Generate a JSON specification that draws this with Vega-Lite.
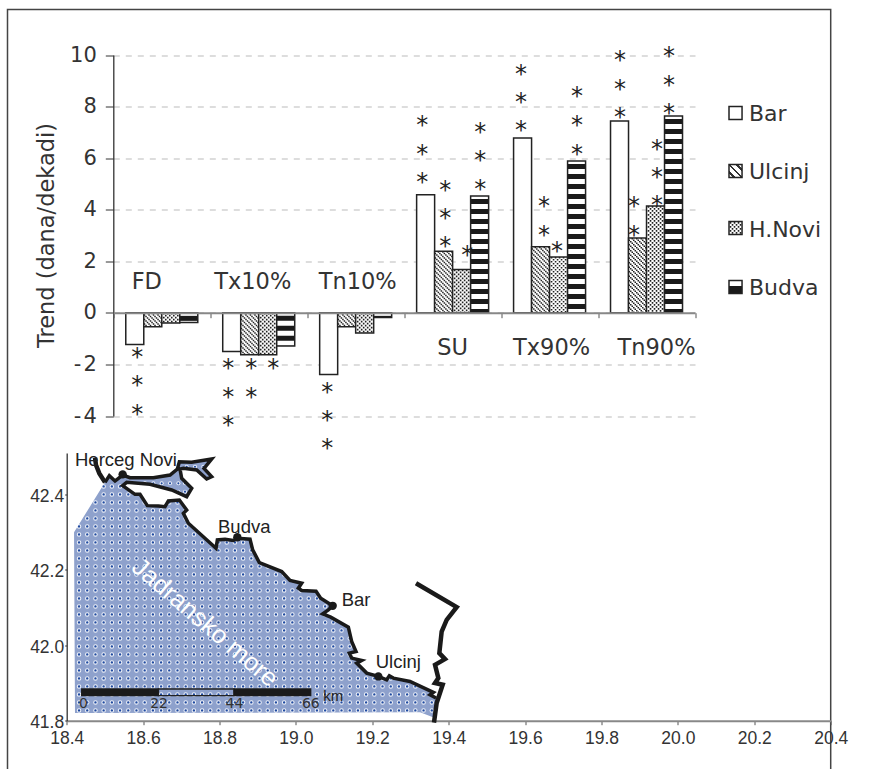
{
"$schema":"https://vega.github.io/schema/vega-lite/v6.json",
"width":823.2,"height":761,
"autosize":{"type":"none"},
"padding":{"left":7.5,"top":9.5,"right":60.3,"bottom":0},
"background":"white",
"config":{"view":{"stroke":"#444","strokeWidth":1.5},"text":{"font":"DejaVu Sans"}},
"datasets":{
"bars":[
{"group":"FD","station":"Bar","value":-1.23},{"group":"FD","station":"Ulcinj","value":-0.54},{"group":"FD","station":"H.Novi","value":-0.39},{"group":"FD","station":"Budva","value":-0.37},
{"group":"Tx10%","station":"Bar","value":-1.5},{"group":"Tx10%","station":"Ulcinj","value":-1.62},{"group":"Tx10%","station":"H.Novi","value":-1.62},{"group":"Tx10%","station":"Budva","value":-1.29},
{"group":"Tn10%","station":"Bar","value":-2.39},{"group":"Tn10%","station":"Ulcinj","value":-0.54},{"group":"Tn10%","station":"H.Novi","value":-0.78},{"group":"Tn10%","station":"Budva","value":-0.18},
{"group":"SU","station":"Bar","value":4.58},{"group":"SU","station":"Ulcinj","value":2.39},{"group":"SU","station":"H.Novi","value":1.68},{"group":"SU","station":"Budva","value":4.53},
{"group":"Tx90%","station":"Bar","value":6.78},{"group":"Tx90%","station":"Ulcinj","value":2.56},{"group":"Tx90%","station":"H.Novi","value":2.17},{"group":"Tx90%","station":"Budva","value":5.89},
{"group":"Tn90%","station":"Bar","value":7.44},{"group":"Tn90%","station":"Ulcinj","value":2.9},{"group":"Tn90%","station":"H.Novi","value":4.14},{"group":"Tn90%","station":"Budva","value":7.63}
],
"chips":[{"group":"Tn90%","station":"Bar","value":7.75,"hi":8,"lo":7.5},{"group":"Tn90%","station":"Ulcinj","value":5.5,"hi":5.75,"lo":5.25},{"group":"Tn90%","station":"H.Novi","value":3.29,"hi":3.52,"lo":3.06},{"group":"Tn90%","station":"Budva","value":1,"hi":1.25,"lo":0.75}],
"stars":[
{"k":"a","group":"FD","value":-1.6},{"k":"a","group":"FD","value":-2.7},{"k":"a","group":"FD","value":-3.8},
{"k":"b","group":"Tx10%","value":-2.03},{"k":"b","group":"Tx10%","value":-3.13},{"k":"b","group":"Tx10%","value":-4.23},
{"k":"c","group":"Tx10%","value":-2.03},{"k":"c","group":"Tx10%","value":-3.13},
{"k":"d","group":"Tx10%","value":-2.03},
{"k":"e","group":"Tn10%","value":-2.96},{"k":"e","group":"Tn10%","value":-4.04},{"k":"e","group":"Tn10%","value":-5.13},
{"k":"f","group":"SU","value":7.41},{"k":"f","group":"SU","value":6.29},{"k":"f","group":"SU","value":5.19},
{"k":"g","group":"SU","value":4.89},{"k":"g","group":"SU","value":3.79},{"k":"g","group":"SU","value":2.69},
{"k":"h","group":"SU","value":2.37},
{"k":"i","group":"SU","value":7.13},{"k":"i","group":"SU","value":6.05},{"k":"i","group":"SU","value":4.93},
{"k":"j","group":"Tx90%","value":9.39},{"k":"j","group":"Tx90%","value":8.29},{"k":"j","group":"Tx90%","value":7.21},
{"k":"l","group":"Tx90%","value":4.25},{"k":"l","group":"Tx90%","value":3.14},
{"k":"m","group":"Tx90%","value":2.5},
{"k":"n","group":"Tx90%","value":8.51},{"k":"n","group":"Tx90%","value":7.41},{"k":"n","group":"Tx90%","value":6.29},
{"k":"o","group":"Tn90%","value":9.93},{"k":"o","group":"Tn90%","value":8.81},{"k":"o","group":"Tn90%","value":7.72},
{"k":"p","group":"Tn90%","value":4.25},{"k":"p","group":"Tn90%","value":3.14},
{"k":"q","group":"Tn90%","value":6.48},{"k":"q","group":"Tn90%","value":5.38},{"k":"q","group":"Tn90%","value":4.3},
{"k":"r","group":"Tn90%","value":10.07},{"k":"r","group":"Tn90%","value":8.96},{"k":"r","group":"Tn90%","value":7.85}
],
"cats":[{"group":"FD","value":1.19},{"group":"Tx10%","value":1.19},{"group":"Tn10%","value":1.19},{"group":"SU","value":-1.37},{"group":"Tx90%","value":-1.37},{"group":"Tn90%","value":-1.37}],
"coast":[
{"i":0,"lon":18.4217,"lat":41.8204},{"i":1,"lon":18.4192,"lat":42.2998},{"i":2,"lon":18.5003,"lat":42.4322},{"i":3,"lon":18.5116,"lat":42.4499},{"i":4,"lon":18.5265,"lat":42.4357},{"i":5,"lon":18.5465,"lat":42.4516},{"i":6,"lon":18.5657,"lat":42.4446},{"i":7,"lon":18.6268,"lat":42.4446},{"i":8,"lon":18.6705,"lat":42.4516},{"i":9,"lon":18.6897,"lat":42.4675},{"i":10,"lon":18.6949,"lat":42.4869},{"i":11,"lon":18.7272,"lat":42.4852},{"i":12,"lon":18.7795,"lat":42.494},{"i":13,"lon":18.7595,"lat":42.4693},{"i":14,"lon":18.7795,"lat":42.4472},{"i":15,"lon":18.7664,"lat":42.441},{"i":16,"lon":18.7403,"lat":42.4649},{"i":17,"lon":18.7054,"lat":42.4693},{"i":18,"lon":18.6966,"lat":42.4675},{"i":19,"lon":18.701,"lat":42.4428},{"i":20,"lon":18.7272,"lat":42.4163},{"i":21,"lon":18.7141,"lat":42.3942},{"i":22,"lon":18.6748,"lat":42.4119},{"i":23,"lon":18.6181,"lat":42.4269},{"i":24,"lon":18.557,"lat":42.4322},{"i":25,"lon":18.5465,"lat":42.4234},{"i":26,"lon":18.5788,"lat":42.4004},{"i":27,"lon":18.5919,"lat":42.4004},{"i":28,"lon":18.6111,"lat":42.3704},{"i":29,"lon":18.6399,"lat":42.3695},{"i":30,"lon":18.6574,"lat":42.3677},{"i":31,"lon":18.6661,"lat":42.3828},{"i":32,"lon":18.6949,"lat":42.3854},{"i":33,"lon":18.7141,"lat":42.3589},{"i":34,"lon":18.7054,"lat":42.3501},{"i":35,"lon":18.7185,"lat":42.3236},{"i":36,"lon":18.7909,"lat":42.2574},{"i":37,"lon":18.7944,"lat":42.2795},{"i":38,"lon":18.8144,"lat":42.2813},{"i":39,"lon":18.8363,"lat":42.2778},{"i":40,"lon":18.8467,"lat":42.2839},{"i":41,"lon":18.8799,"lat":42.2813},{"i":42,"lon":18.8869,"lat":42.253},{"i":43,"lon":18.9043,"lat":42.2195},{"i":44,"lon":18.9628,"lat":42.1956},{"i":45,"lon":18.9846,"lat":42.1718},{"i":46,"lon":19.0151,"lat":42.1647},{"i":47,"lon":19.0064,"lat":42.1515},{"i":48,"lon":19.0151,"lat":42.1453},{"i":49,"lon":19.0527,"lat":42.1435},{"i":50,"lon":19.0649,"lat":42.125},{"i":51,"lon":19.0963,"lat":42.1047},{"i":52,"lon":19.085,"lat":42.0941},{"i":53,"lon":19.0701,"lat":42.0835},{"i":54,"lon":19.0911,"lat":42.0747},{"i":55,"lon":19.1373,"lat":42.0482},{"i":56,"lon":19.146,"lat":42.0102},{"i":57,"lon":19.1574,"lat":41.9837},{"i":58,"lon":19.1399,"lat":41.9792},{"i":59,"lon":19.146,"lat":41.966},{"i":60,"lon":19.1722,"lat":41.9598},{"i":61,"lon":19.1591,"lat":41.9528},{"i":62,"lon":19.1853,"lat":41.9263},{"i":63,"lon":19.2158,"lat":41.9174},{"i":64,"lon":19.2376,"lat":41.9086},{"i":65,"lon":19.2446,"lat":41.9192},{"i":66,"lon":19.2551,"lat":41.913},{"i":67,"lon":19.2987,"lat":41.9042},{"i":68,"lon":19.3598,"lat":41.8751},{"i":69,"lon":19.3511,"lat":41.8689},{"i":70,"lon":19.3668,"lat":41.86},{"i":71,"lon":19.3642,"lat":41.8071},{"i":72,"lon":19.3249,"lat":41.8221}
],
"land":[
{"part":"nw","i":0,"lon":18.4741,"lat":42.4975},{"part":"nw","i":1,"lon":18.4767,"lat":42.4781},{"part":"nw","i":2,"lon":18.4855,"lat":42.456},{"part":"nw","i":3,"lon":18.5003,"lat":42.4322},
{"part":"east","i":0,"lon":19.3144,"lat":42.1647},{"part":"east","i":1,"lon":19.4209,"lat":42.1011},{"part":"east","i":2,"lon":19.3947,"lat":42.0675},{"part":"east","i":3,"lon":19.3816,"lat":42.0366},{"part":"east","i":4,"lon":19.3755,"lat":41.9792},{"part":"east","i":5,"lon":19.3903,"lat":41.9634},{"part":"east","i":6,"lon":19.3642,"lat":41.9483},{"part":"east","i":7,"lon":19.3729,"lat":41.913},{"part":"east","i":8,"lon":19.3642,"lat":41.8998},{"part":"east","i":9,"lon":19.3843,"lat":41.8954},{"part":"east","i":10,"lon":19.3685,"lat":41.8468},{"part":"east","i":11,"lon":19.3615,"lat":41.795}
],
"columns":[
{"lon":18.4323,"top":42.321},{"lon":18.4538,"top":42.356},{"lon":18.4753,"top":42.391},{"lon":18.4967,"top":42.426},{"lon":18.5182,"top":42.43},{"lon":18.5397,"top":42.425},{"lon":18.5612,"top":42.413},{"lon":18.5826,"top":42.4},{"lon":18.6041,"top":42.381},{"lon":18.6256,"top":42.37},{"lon":18.6471,"top":42.369},{"lon":18.6685,"top":42.383},{"lon":18.69,"top":42.385},{"lon":18.7115,"top":42.362},{"lon":18.733,"top":42.31},{"lon":18.7544,"top":42.291},{"lon":18.7759,"top":42.271},{"lon":18.7974,"top":42.278},{"lon":18.8189,"top":42.28},{"lon":18.8403,"top":42.279},{"lon":18.8618,"top":42.282},{"lon":18.8833,"top":42.268},{"lon":18.9048,"top":42.219},{"lon":18.9262,"top":42.21},{"lon":18.9477,"top":42.202},{"lon":18.9692,"top":42.189},{"lon":18.9907,"top":42.166},{"lon":19.0121,"top":42.147},{"lon":19.0336,"top":42.144},{"lon":19.0551,"top":42.138},{"lon":19.0766,"top":42.112},{"lon":19.0979,"top":42.071},{"lon":19.1194,"top":42.058},{"lon":19.1409,"top":42.03},{"lon":19.1624,"top":41.95},{"lon":19.1838,"top":41.928},{"lon":19.2053,"top":41.92},{"lon":19.2268,"top":41.913},{"lon":19.2483,"top":41.915},{"lon":19.2697,"top":41.91},{"lon":19.2912,"top":41.905},{"lon":19.3127,"top":41.897},{"lon":19.3342,"top":41.887},{"lon":19.3557,"top":41.875}
],
"dots":[{"lon":18.605,"lat":42.4296},{"lon":18.6268,"lat":42.4296},{"lon":18.6486,"lat":42.4296},{"lon":18.6705,"lat":42.4296},{"lon":18.6923,"lat":42.4296},{"lon":18.6923,"lat":42.4075},{"lon":18.7097,"lat":42.4075},{"lon":18.7097,"lat":42.4296},{"lon":18.7359,"lat":42.4737},{"lon":18.7577,"lat":42.4737},{"lon":18.7141,"lat":42.4737}],
"towns":[{"name":"Herceg Novi","lon":18.5465,"lat":42.4534,"tx":18.4217,"ty":42.4763},{"name":"Budva","lon":18.8467,"lat":42.2866,"tx":18.7961,"ty":42.2988},{"name":"Bar","lon":19.0963,"lat":42.1047,"tx":19.1199,"ty":42.1046},{"name":"Ulcinj","lon":19.2158,"lat":41.9174,"tx":19.2089,"ty":41.9396}],
"scalebar":[{"a":18.4393,"b":18.64,"t":41.884,"u":41.8664,"solid":1},{"a":18.64,"b":18.838,"t":41.884,"u":41.8664,"solid":0},{"a":18.838,"b":19.0387,"t":41.884,"u":41.8664,"solid":1}],
"scaleticks":[{"lon":18.4437,"lat":41.8442,"label":"0"},{"lon":18.6418,"lat":41.8442,"label":"22"},{"lon":18.839,"lat":41.8442,"label":"44"},{"lon":19.039,"lat":41.8442,"label":"66"}]
},
"layer":[
{
"encoding":{
"x":{"field":"group","type":"nominal","scale":{"type":"band","domain":["FD","Tx10%","Tn10%","SU","Tx90%","Tn90%"],"range":[105.8,687.5],"paddingInner":0,"paddingOuter":0},"axis":{"orient":"bottom","offset":-457.8,"labels":false,"title":null,"tickBand":"extent","tickSize":5,"tickColor":"#555","domainColor":"#888","domainWidth":2,"zindex":1}},
"y":{"field":"value","type":"quantitative","scale":{"domain":[-4,10],"range":[406.5,45.5]},"axis":{"orient":"left","offset":-105.8,"values":[-4,-2,0,2,4,6,8,10],"title":"Trend (dana/dekadi)","titleFont":"DejaVu Sans","titleFontSize":22.5,"titleFontWeight":"normal","titleColor":"#333","titleX":-67,"titleY":225.5,"titleAngle":270,"titleAlign":"center","titleBaseline":"middle","labelFont":"DejaVu Sans","labelFontSize":21,"labelColor":"#333","labelPadding":9,"labelExpr":"datum.value<0?'-\u200a'+abs(datum.value):''+datum.value","tickSize":8,"tickColor":"#333","domainColor":"#333","domainWidth":1.3,"grid":true,"gridDash":[6,6],"gridColor":"#bbb","gridWidth":1.2}}
},
"layer":[
{"data":{"name":"bars"},"transform":[{"calculate":"max(datum.value,0)","as":"hi"},{"calculate":"min(datum.value,0)","as":"lo"}],
"layer":[
{"mark":{"type":"point","filled":true,"size":0},"encoding":{"fill":{"field":"station","type":"nominal","scale":{"domain":["Bar","Ulcinj","H.Novi","Budva"],"range":["transparent","transparent","transparent","transparent"]},"legend":{"title":null,"orient":"none","legendX":716.5,"legendY":93,"symbolType":"square","symbolSize":190,"symbolStrokeColor":"transparent","symbolStrokeWidth":0,"labelFont":"DejaVu Sans","labelFontSize":22,"labelColor":"#333","labelOffset":3,"rowPadding":36,"values":["Bar","Ulcinj","H.Novi","Budva"]}}}},
{"transform":[{"filter":"datum.station=='Bar'"}],"mark":{"type":"bar","size":18,"xOffset":-27,"fill":"#fff","stroke":"#222","strokeWidth":1.5},"encoding":{"y2":{"datum":0}}},
{"transform":[{"filter":"datum.station=='Ulcinj'"}],
"encoding":{"y":{"field":"hi"},"y2":{"field":"lo"}},
"layer":[
{"mark":{"type":"bar","size":18,"xOffset":-9,"fill":"#fff"}},
{"mark":{"type":"rule","xOffset":-17.25,"strokeWidth":1.5,"stroke":"#222","strokeDash":[1.5,3],"strokeDashOffset":3}},
{"mark":{"type":"rule","xOffset":-15.75,"strokeWidth":1.5,"stroke":"#222","strokeDash":[1.5,3],"strokeDashOffset":1.5}},
{"mark":{"type":"rule","xOffset":-14.25,"strokeWidth":1.5,"stroke":"#222","strokeDash":[1.5,3],"strokeDashOffset":0}},
{"mark":{"type":"rule","xOffset":-12.75,"strokeWidth":1.5,"stroke":"#222","strokeDash":[1.5,3],"strokeDashOffset":3}},
{"mark":{"type":"rule","xOffset":-11.25,"strokeWidth":1.5,"stroke":"#222","strokeDash":[1.5,3],"strokeDashOffset":1.5}},
{"mark":{"type":"rule","xOffset":-9.75,"strokeWidth":1.5,"stroke":"#222","strokeDash":[1.5,3],"strokeDashOffset":0}},
{"mark":{"type":"rule","xOffset":-8.25,"strokeWidth":1.5,"stroke":"#222","strokeDash":[1.5,3],"strokeDashOffset":3}},
{"mark":{"type":"rule","xOffset":-6.75,"strokeWidth":1.5,"stroke":"#222","strokeDash":[1.5,3],"strokeDashOffset":1.5}},
{"mark":{"type":"rule","xOffset":-5.25,"strokeWidth":1.5,"stroke":"#222","strokeDash":[1.5,3],"strokeDashOffset":0}},
{"mark":{"type":"rule","xOffset":-3.75,"strokeWidth":1.5,"stroke":"#222","strokeDash":[1.5,3],"strokeDashOffset":3}},
{"mark":{"type":"rule","xOffset":-2.25,"strokeWidth":1.5,"stroke":"#222","strokeDash":[1.5,3],"strokeDashOffset":1.5}},
{"mark":{"type":"rule","xOffset":-0.75,"strokeWidth":1.5,"stroke":"#222","strokeDash":[1.5,3],"strokeDashOffset":0}},
{"mark":{"type":"bar","size":18,"xOffset":-9,"fillOpacity":0,"stroke":"#222","strokeWidth":1.5}}
]},
{"transform":[{"filter":"datum.station=='H.Novi'"}],
"encoding":{"y":{"field":"hi"},"y2":{"field":"lo"}},
"layer":[
{"mark":{"type":"bar","size":18,"xOffset":9,"fill":"#fff"}},
{"mark":{"type":"rule","xOffset":2,"strokeWidth":1.6,"stroke":"#222","strokeDash":[1.6,2.4],"strokeDashOffset":0}},
{"mark":{"type":"rule","xOffset":4,"strokeWidth":1.6,"stroke":"#222","strokeDash":[1.6,2.4],"strokeDashOffset":2}},
{"mark":{"type":"rule","xOffset":6,"strokeWidth":1.6,"stroke":"#222","strokeDash":[1.6,2.4],"strokeDashOffset":0}},
{"mark":{"type":"rule","xOffset":8,"strokeWidth":1.6,"stroke":"#222","strokeDash":[1.6,2.4],"strokeDashOffset":2}},
{"mark":{"type":"rule","xOffset":10,"strokeWidth":1.6,"stroke":"#222","strokeDash":[1.6,2.4],"strokeDashOffset":0}},
{"mark":{"type":"rule","xOffset":12,"strokeWidth":1.6,"stroke":"#222","strokeDash":[1.6,2.4],"strokeDashOffset":2}},
{"mark":{"type":"rule","xOffset":14,"strokeWidth":1.6,"stroke":"#222","strokeDash":[1.6,2.4],"strokeDashOffset":0}},
{"mark":{"type":"rule","xOffset":16,"strokeWidth":1.6,"stroke":"#222","strokeDash":[1.6,2.4],"strokeDashOffset":2}},
{"mark":{"type":"bar","size":18,"xOffset":9,"fillOpacity":0,"stroke":"#222","strokeWidth":1.5}}
]},
{"transform":[{"filter":"datum.station=='Budva'"}],
"encoding":{"y":{"field":"hi"},"y2":{"field":"lo"}},
"layer":[
{"mark":{"type":"bar","size":18,"xOffset":27,"fill":"#fff"}},
{"mark":{"type":"rule","xOffset":27,"strokeWidth":18,"stroke":"#1a1a1a","strokeDash":[5,5],"strokeDashOffset":7}},
{"mark":{"type":"bar","size":18,"xOffset":27,"fillOpacity":0,"stroke":"#222","strokeWidth":1.5}}
]}
]},
{"data":{"name":"chips"},"transform":[{"filter":"datum.station=='Bar'"}],"mark":{"type":"square","size":170,"xOffset":89,"fill":"#fff","stroke":"#222","strokeWidth":1.5,"opacity":1}},
{"data":{"name":"chips"},"transform":[{"filter":"datum.station=='Ulcinj'"}],"mark":{"type":"square","size":170,"xOffset":89,"stroke":"#222","strokeWidth":1.5,"opacity":1,"fill":{"gradient":"linear","x1":0,"y1":1,"x2":1,"y2":0,"stops":[{"offset":0,"color":"#fff"},{"offset":0.17,"color":"#fff"},{"offset":0.17,"color":"#333"},{"offset":0.27,"color":"#333"},{"offset":0.27,"color":"#fff"},{"offset":0.45,"color":"#fff"},{"offset":0.45,"color":"#333"},{"offset":0.55,"color":"#333"},{"offset":0.55,"color":"#fff"},{"offset":0.73,"color":"#fff"},{"offset":0.73,"color":"#333"},{"offset":0.83,"color":"#333"},{"offset":0.83,"color":"#fff"},{"offset":1,"color":"#fff"}]}}},
{"data":{"name":"chips"},"transform":[{"filter":"datum.station=='H.Novi'"}],"encoding":{"y":{"field":"hi"},"y2":{"field":"lo"}},"layer":[
{"mark":{"type":"rule","xOffset":84,"strokeWidth":1.6,"stroke":"#222","strokeDash":[1.6,2.4],"strokeDashOffset":0}},
{"mark":{"type":"rule","xOffset":86,"strokeWidth":1.6,"stroke":"#222","strokeDash":[1.6,2.4],"strokeDashOffset":2}},
{"mark":{"type":"rule","xOffset":88,"strokeWidth":1.6,"stroke":"#222","strokeDash":[1.6,2.4],"strokeDashOffset":0}},
{"mark":{"type":"rule","xOffset":90,"strokeWidth":1.6,"stroke":"#222","strokeDash":[1.6,2.4],"strokeDashOffset":2}},
{"mark":{"type":"rule","xOffset":92,"strokeWidth":1.6,"stroke":"#222","strokeDash":[1.6,2.4],"strokeDashOffset":0}},
{"mark":{"type":"rule","xOffset":94,"strokeWidth":1.6,"stroke":"#222","strokeDash":[1.6,2.4],"strokeDashOffset":2}}
]},
{"data":{"name":"chips"},"transform":[{"filter":"datum.station=='H.Novi'"}],"mark":{"type":"square","size":170,"xOffset":89,"stroke":"#222","strokeWidth":1.5,"opacity":1,"fillOpacity":0}},
{"data":{"name":"chips"},"transform":[{"filter":"datum.station=='Budva'"}],"mark":{"type":"square","size":170,"xOffset":89,"stroke":"#222","strokeWidth":1.5,"opacity":1,"fill":{"gradient":"linear","x1":0,"y1":0,"x2":0,"y2":1,"stops":[{"offset":0,"color":"#fff"},{"offset":0.42,"color":"#fff"},{"offset":0.42,"color":"#1a1a1a"},{"offset":1,"color":"#1a1a1a"}]}}},
{"data":{"name":"stars"},"mark":{"type":"text","text":"*","dx":-24.5,"dy":4,"fontSize":24,"color":"#222","baseline":"middle"},"transform":[{"filter":"datum.k=='a'"}]},
{"data":{"name":"stars"},"mark":{"type":"text","text":"*","dx":-30.5,"dy":4,"fontSize":24,"color":"#222","baseline":"middle"},"transform":[{"filter":"datum.k=='b'"}]},
{"data":{"name":"stars"},"mark":{"type":"text","text":"*","dx":-7.5,"dy":4,"fontSize":24,"color":"#222","baseline":"middle"},"transform":[{"filter":"datum.k=='c'"}]},
{"data":{"name":"stars"},"mark":{"type":"text","text":"*","dx":14.5,"dy":4,"fontSize":24,"color":"#222","baseline":"middle"},"transform":[{"filter":"datum.k=='d'"}]},
{"data":{"name":"stars"},"mark":{"type":"text","text":"*","dx":-28.5,"dy":4,"fontSize":24,"color":"#222","baseline":"middle"},"transform":[{"filter":"datum.k=='e'"}]},
{"data":{"name":"stars"},"mark":{"type":"text","text":"*","dx":-30.5,"dy":4,"fontSize":24,"color":"#222","baseline":"middle"},"transform":[{"filter":"datum.k=='f'"}]},
{"data":{"name":"stars"},"mark":{"type":"text","text":"*","dx":-7.5,"dy":4,"fontSize":24,"color":"#222","baseline":"middle"},"transform":[{"filter":"datum.k=='g'"}]},
{"data":{"name":"stars"},"mark":{"type":"text","text":"*","dx":14.5,"dy":4,"fontSize":24,"color":"#222","baseline":"middle"},"transform":[{"filter":"datum.k=='h'"}]},
{"data":{"name":"stars"},"mark":{"type":"text","text":"*","dx":27.5,"dy":4,"fontSize":24,"color":"#222","baseline":"middle"},"transform":[{"filter":"datum.k=='i'"}]},
{"data":{"name":"stars"},"mark":{"type":"text","text":"*","dx":-28.5,"dy":4,"fontSize":24,"color":"#222","baseline":"middle"},"transform":[{"filter":"datum.k=='j'"}]},
{"data":{"name":"stars"},"mark":{"type":"text","text":"*","dx":-5.5,"dy":4,"fontSize":24,"color":"#222","baseline":"middle"},"transform":[{"filter":"datum.k=='l'"}]},
{"data":{"name":"stars"},"mark":{"type":"text","text":"*","dx":7.5,"dy":4,"fontSize":24,"color":"#222","baseline":"middle"},"transform":[{"filter":"datum.k=='m'"}]},
{"data":{"name":"stars"},"mark":{"type":"text","text":"*","dx":27.5,"dy":4,"fontSize":24,"color":"#222","baseline":"middle"},"transform":[{"filter":"datum.k=='n'"}]},
{"data":{"name":"stars"},"mark":{"type":"text","text":"*","dx":-26.5,"dy":4,"fontSize":24,"color":"#222","baseline":"middle"},"transform":[{"filter":"datum.k=='o'"}]},
{"data":{"name":"stars"},"mark":{"type":"text","text":"*","dx":-12.5,"dy":4,"fontSize":24,"color":"#222","baseline":"middle"},"transform":[{"filter":"datum.k=='p'"}]},
{"data":{"name":"stars"},"mark":{"type":"text","text":"*","dx":10.5,"dy":4,"fontSize":24,"color":"#222","baseline":"middle"},"transform":[{"filter":"datum.k=='q'"}]},
{"data":{"name":"stars"},"mark":{"type":"text","text":"*","dx":22.5,"dy":4,"fontSize":24,"color":"#222","baseline":"middle"},"transform":[{"filter":"datum.k=='r'"}]},
{"data":{"name":"cats"},"transform":[{"filter":"datum.group=='FD'"}],"mark":{"type":"text","dx":-15,"fontSize":22.5,"color":"#333","baseline":"middle"},"encoding":{"text":{"field":"group"}}},
{"data":{"name":"cats"},"transform":[{"filter":"datum.group=='Tx10%'"}],"mark":{"type":"text","dx":-6,"fontSize":22.5,"color":"#333","baseline":"middle"},"encoding":{"text":{"field":"group"}}},
{"data":{"name":"cats"},"transform":[{"filter":"datum.group=='Tn10%'"}],"mark":{"type":"text","dx":2,"fontSize":22.5,"color":"#333","baseline":"middle"},"encoding":{"text":{"field":"group"}}},
{"data":{"name":"cats"},"transform":[{"filter":"datum.group=='SU'"}],"mark":{"type":"text","dx":0,"fontSize":22.5,"color":"#333","baseline":"middle"},"encoding":{"text":{"field":"group"}}},
{"data":{"name":"cats"},"transform":[{"filter":"datum.group=='Tx90%'"}],"mark":{"type":"text","dx":2,"fontSize":22.5,"color":"#333","baseline":"middle"},"encoding":{"text":{"field":"group"}}},
{"data":{"name":"cats"},"transform":[{"filter":"datum.group=='Tn90%'"}],"mark":{"type":"text","dx":10,"fontSize":22.5,"color":"#333","baseline":"middle"},"encoding":{"text":{"field":"group"}}}
]
},
{
"encoding":{
"x":{"field":"lon","type":"quantitative","scale":{"domain":[18.4,20.4],"range":[59.2,823.2],"nice":false,"zero":false},"axis":{"orient":"bottom","offset":-49.8,"values":[18.4,18.6,18.8,19.0,19.2,19.4,19.6,19.8,20.0,20.2,20.4],"format":".1f","title":null,"labelFont":"Liberation Sans","labelFontSize":17.5,"labelColor":"#333","labelPadding":5,"labelOverlap":false,"labelFlush":false,"tickSize":4,"tickColor":"#555","domainColor":"#888","domainWidth":2,"grid":false}},
"y":{"field":"lat","type":"quantitative","scale":{"domain":[41.8,42.51],"range":[711.2,443.5],"nice":false,"zero":false},"axis":{"orient":"left","offset":-59.2,"values":[41.8,42.0,42.2,42.4],"format":".1f","title":null,"labelFont":"Liberation Sans","labelFontSize":17.5,"labelColor":"#333","labelPadding":1,"labelOffset":2,"labelOverlap":false,"labelFlush":false,"tickSize":2,"tickColor":"#333","domainColor":"#333","domainWidth":1.3,"grid":false}}
},
"layer":[
{"data":{"name":"coast"},"mark":{"type":"line","fill":"#8ea1cc","stroke":null,"strokeWidth":0},"encoding":{"order":{"field":"i"}}},
{"data":{"name":"columns"},"transform":[{"calculate":"41.8273","as":"base"}],"mark":{"type":"rule","stroke":"#fff","opacity":0.85,"strokeWidth":4.5,"strokeCap":"round","strokeDash":[0.01,7.99]},"encoding":{"y":{"field":"base"},"y2":{"field":"top"}}},
{"data":{"name":"columns"},"transform":[{"calculate":"41.8273","as":"base"}],"mark":{"type":"rule","stroke":"#1f4aa0","strokeWidth":2.4,"strokeCap":"round","strokeDash":[0.01,7.99]},"encoding":{"y":{"field":"base"},"y2":{"field":"top"}}},
{"data":{"name":"dots"},"mark":{"type":"circle","color":"#fff","opacity":0.85,"size":16}},
{"data":{"name":"dots"},"mark":{"type":"circle","color":"#1f4aa0","opacity":1,"size":4.5}},
{"data":{"name":"coast"},"transform":[{"filter":"datum.i>=2&&datum.i<=70"}],"mark":{"type":"line","stroke":"#1a1a1a","strokeWidth":3.5,"strokeJoin":"miter"},"encoding":{"order":{"field":"i"}}},
{"data":{"name":"land"},"transform":[{"filter":"datum.part=='nw'"}],"mark":{"type":"line","stroke":"#1a1a1a","strokeWidth":4.5},"encoding":{"order":{"field":"i"}}},
{"data":{"name":"land"},"transform":[{"filter":"datum.part=='east'"}],"mark":{"type":"line","stroke":"#1a1a1a","strokeWidth":4.5,"strokeJoin":"miter"},"encoding":{"order":{"field":"i"}}},
{"data":{"name":"towns"},"mark":{"type":"circle","size":70,"color":"#1a1a1a","opacity":1}},
{"data":{"name":"towns"},"mark":{"type":"text","font":"Liberation Sans","fontSize":18.5,"align":"left","baseline":"alphabetic","color":"#222"},"encoding":{"x":{"field":"tx"},"y":{"field":"ty"},"text":{"field":"name"}}},
{"data":{"values":[{"lon":18.762,"lat":42.0596}]},"mark":{"type":"text","font":"Liberation Sans","fontSize":25.5,"angle":40.5,"color":"#fff","text":"Jadransko more","align":"center","baseline":"middle"}},
{"data":{"name":"scalebar"},"mark":{"type":"rect","stroke":"#222","strokeWidth":1.4,"fillOpacity":0},"encoding":{"x":{"field":"a"},"x2":{"field":"b"},"y":{"field":"t"},"y2":{"field":"u"}}},
{"data":{"name":"scalebar"},"transform":[{"filter":"datum.solid==1"}],"mark":{"type":"rect","fill":"#1a1a1a"},"encoding":{"x":{"field":"a"},"x2":{"field":"b"},"y":{"field":"t"},"y2":{"field":"u"}}},
{"data":{"name":"scaleticks"},"mark":{"type":"text","font":"DejaVu Sans","fontSize":14,"color":"#333","baseline":"middle"},"encoding":{"text":{"field":"label"}}},
{"data":{"values":[{"lon":19.098,"lat":41.8646,"label":"km"}]},"mark":{"type":"text","font":"Liberation Sans","fontSize":15,"color":"#222","baseline":"middle"},"encoding":{"text":{"field":"label"}}}
]
}
],
"resolve":{"scale":{"x":"independent","y":"independent"},"axis":{"x":"independent","y":"independent"}}
}
